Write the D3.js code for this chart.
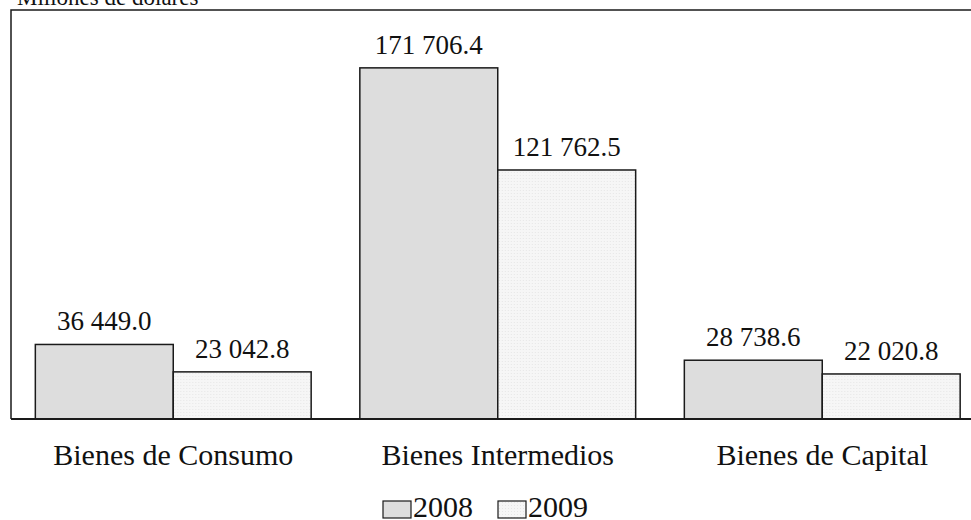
<!DOCTYPE html>
<html>
<head>
<meta charset="utf-8">
<script src="https://cdn.jsdelivr.net/npm/d3@7"></script>
<style>
  body { margin: 0; background: #fff; }
  svg { display: block; }
  svg text { font-family: "Liberation Serif", serif; }
</style>
</head>
<body>
<svg id="chart" width="971" height="520"></svg>
<script>
// data
const categories = ["Bienes de Consumo", "Bienes Intermedios", "Bienes de Capital"];
const years = ["2008", "2009"];
const values2008 = [36449.0, 171706.4, 28738.6];
const values2009 = [23042.8, 121762.5, 22020.8];
const unitLabel = "Millones de dólares";

const series = { "2008": values2008, "2009": values2009 };

const svg = d3.select("#chart");
const W = 971;
const plotLeft = 11, plotTop = 10, plotBottom = 419;
const serif = "Liberation Serif, serif";

// dotted fill for 2009
const defs = svg.append("defs");
const pat = defs.append("pattern")
    .attr("id", "dots")
    .attr("width", 3).attr("height", 3)
    .attr("patternUnits", "userSpaceOnUse");
pat.append("rect").attr("width", 3).attr("height", 3).attr("fill", "#f6f6f6");
pat.append("rect").attr("x", 1).attr("y", 1).attr("width", 1).attr("height", 1).attr("fill", "#e6e6e6");

const fills = { "2008": "#dddddd", "2009": "url(#dots)" };

const x = d3.scaleBand()
    .domain(categories)
    .range([plotLeft, 984.5])
    .paddingInner(0.15)
    .paddingOuter(0.075);

const xs = d3.scaleBand()
    .domain(years)
    .range([0, x.bandwidth()]);

const y = d3.scaleLinear()
    .domain([0, 200000])
    .range([plotBottom, plotTop]);

const fmt = v => d3.format(",.1f")(v).replace(/,/g, " ");

// bars
const groups = svg.append("g").selectAll("g")
    .data(categories)
    .join("g")
    .attr("transform", d => `translate(${x(d)},0)`);

groups.selectAll("rect")
    .data((d, i) => years.map(yr => ({ yr, v: series[yr][i] })))
    .join("rect")
    .attr("x", d => xs(d.yr))
    .attr("y", d => y(d.v))
    .attr("width", xs.bandwidth())
    .attr("height", d => y(0) - y(d.v))
    .attr("fill", d => fills[d.yr])
    .attr("stroke", "#1a1a1a")
    .attr("stroke-width", 1.5);

groups.selectAll("text")
    .data((d, i) => years.map(yr => ({ yr, v: series[yr][i] })))
    .join("text")
    .attr("x", d => xs(d.yr) + xs.bandwidth() / 2)
    .attr("y", d => y(d.v) - 14)
    .attr("text-anchor", "middle")
    .attr("font-family", serif)
    .attr("font-size", 27)
    .attr("fill", "#111")
    .text(d => fmt(d.v));

// frame: left, top, baseline
svg.append("path")
    .attr("d", `M${plotLeft},${plotBottom}V${plotTop}H${W}`)
    .attr("fill", "none")
    .attr("stroke", "#1a1a1a")
    .attr("stroke-width", 1.5);
svg.append("line")
    .attr("x1", plotLeft).attr("x2", W)
    .attr("y1", plotBottom).attr("y2", plotBottom)
    .attr("stroke", "#1a1a1a")
    .attr("stroke-width", 2);

// category labels
svg.append("g").selectAll("text")
    .data(categories)
    .join("text")
    .attr("x", d => x(d) + x.bandwidth() / 2)
    .attr("y", 465)
    .attr("text-anchor", "middle")
    .attr("font-family", serif)
    .attr("font-size", 30)
    .attr("fill", "#111")
    .text(d => d);

// unit label, cut at the top like the source
svg.append("text")
    .attr("x", 17)
    .attr("y", 5)
    .attr("font-family", serif)
    .attr("font-size", 23)
    .attr("fill", "#111")
    .text(unitLabel);

// legend
const legendX = [383, 498];
const legend = svg.append("g").selectAll("g")
    .data(years)
    .join("g")
    .attr("transform", (d, i) => `translate(${legendX[i]},0)`);
legend.append("rect")
    .attr("x", 0).attr("y", 501)
    .attr("width", 28).attr("height", 17)
    .attr("fill", d => fills[d])
    .attr("stroke", "#1a1a1a")
    .attr("stroke-width", 1.2);
legend.append("text")
    .attr("x", 30)
    .attr("y", 517)
    .attr("font-family", serif)
    .attr("font-size", 30)
    .attr("fill", "#111")
    .text(d => d);
</script>
</body>
</html>
